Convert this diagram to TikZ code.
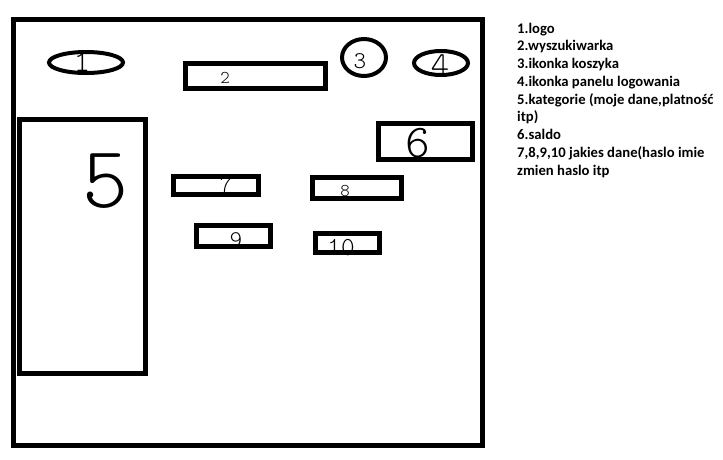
\documentclass[tikz,border=0pt]{standalone}
\usepackage{fontspec}
\usetikzlibrary{shapes.geometric}
\newfontfamily\listfont{Carlito}
\newfontfamily\handfont{Latin Modern Mono Light}
\begin{document}
\begin{tikzpicture}[x=1pt,y=-1pt,
  box/.style={draw,line width=5pt,rectangle,inner sep=0pt},
  oval/.style={draw,line width=4pt,ellipse,inner sep=0pt},
  hand/.style={inner sep=0pt,font=\handfont\fontsize{#1}{#1}\selectfont},
  listtext/.style={anchor=base west,inner sep=0pt,font=\listfont\bfseries\fontsize{14.67}{17.75}\selectfont}]
\useasboundingbox (0,0) rectangle (723,459);
% hand-written numbers
\node[hand=31] (d1) at (82,62) {1};
\node[hand=18] (d2) at (225,78) {2};
\node[hand=24] (d3) at (360,61) {3};
\node[hand=35] (d4) at (440,66) {4};
\node[hand=88] (d5) at (106,181) {5};
\node[hand=47] (d6) at (418,143) {6};
\node[hand=23] (d7) at (226,185) {7};
\node[hand=18] (d8) at (345,191) {8};
\node[hand=24] (d9) at (236,240) {9};
\node[hand=26] (d10) at (341,248) {10};
% frame and elements
\node[box,minimum width=469pt,minimum height=426pt] (frame) at (248,232.5) {};
\node[oval,minimum width=74pt,minimum height=21pt] (e1) at (86,62.5) {};
\node[box,minimum width=140pt,minimum height=24.5pt] (r2) at (255.5,75.75) {};
\node[oval,minimum width=44pt,minimum height=37pt] (e3) at (364,57.5) {};
\node[oval,minimum width=54pt,minimum height=24pt] (e4) at (441,63) {};
\node[box,minimum width=126pt,minimum height=254pt] (r5) at (82.5,246.5) {};
\node[box,minimum width=94pt,minimum height=36pt] (r6) at (425.5,141.5) {};
\node[box,minimum width=85pt,minimum height=18pt] (r7) at (216,185.5) {};
\node[box,minimum width=89pt,minimum height=21pt] (r8) at (357,188) {};
\node[box,minimum width=74pt,minimum height=21pt] (r9) at (233.5,236) {};
\node[box,minimum width=64pt,minimum height=19pt] (r10) at (347.5,243) {};
% legend
\node[listtext] (t1) at (517,33) {1.logo};
\node[listtext] (t2) at (517,50.75) {2.wyszukiwarka};
\node[listtext] (t3) at (517,68.5) {3.ikonka koszyka};
\node[listtext] (t4) at (517,86.25) {4.ikonka panelu logowania};
\node[listtext] (t5) at (517,104) {5.kategorie (moje dane,platność};
\node[listtext] (t6) at (517,121.75) {itp)};
\node[listtext] (t7) at (517,139.5) {6.saldo};
\node[listtext] (t8) at (517,157.25) {7,8,9,10 jakies dane(haslo imie};
\node[listtext] (t9) at (517,175) {zmien haslo itp};
\end{tikzpicture}
\end{document}
